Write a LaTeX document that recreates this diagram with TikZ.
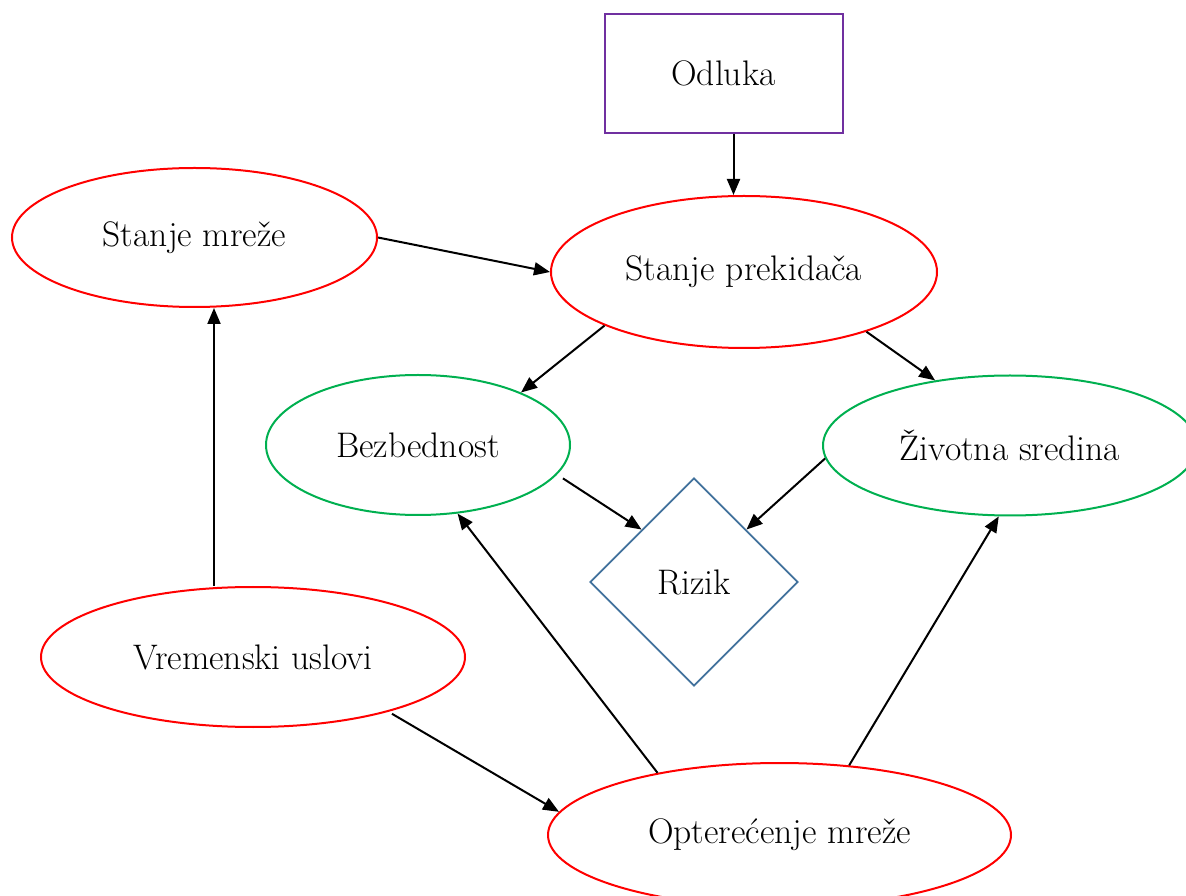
\documentclass[tikz,border=0pt]{standalone}
\usetikzlibrary{shapes.geometric,arrows.meta}
\definecolor{stateRed}{HTML}{FF0000}
\definecolor{effectGreen}{HTML}{00B050}
\definecolor{decisionPurple}{HTML}{7030A0}
\definecolor{riskBlue}{HTML}{41719C}
\begin{document}
\begin{tikzpicture}[x=1pt,y=1pt,
  every node/.style={font=\fontsize{35.5}{42}\selectfont, inner sep=0pt},
  chance/.style={ellipse, draw=stateRed, line width=2pt},
  effect/.style={ellipse, draw=effectGreen, line width=2pt},
  decision/.style={rectangle, draw=decisionPurple, line width=2pt,
    minimum width=238, minimum height=119},
  utility/.style={diamond, draw=riskBlue, line width=1.8pt,
    minimum width=208, minimum height=208},
  link/.style={line width=2pt, -{Triangle[length=16pt,width=13pt]}}
]
\useasboundingbox (0,0) rectangle (1186,895);

% decision, chance, effect and utility nodes
\node[decision] (odl) at (723.5,821.5) {Odluka};
\node[chance, minimum width=365, minimum height=139] (mreza) at (194.5,657.5) {Stanje mreže};
\node[chance, minimum width=386, minimum height=152] (prek) at (744,623) {Stanje prekidača};
\node[effect, minimum width=304, minimum height=140] (bez) at (418,450) {Bezbednost};
\node[effect, minimum width=374, minimum height=140] (ziv) at (1010,449.5) {Životna sredina};
\node[utility] (rizik) at (694,313) {Rizik};
\node[chance, minimum width=424, minimum height=140] (vrem) at (253,238) {Vremenski uslovi};
\node[chance, minimum width=463, minimum height=144] (opt) at (779.5,60) {Opterećenje mreže};

% influences
\draw[link] ([xshift=10pt]odl.south) -- ([xshift=10pt]odl.south |- prek.north);
\draw[link] (mreza.east) -- (prek.west);
\draw[link] (prek.201.4) -- (bez.27.8);
\draw[link] (prek.334.9) -- (ziv.139.4);
\draw[link, shorten <=7pt] (bez.348.9) -- (rizik.north west);
\draw[link] (ziv.184.8) -- (rizik.north east);
\draw[link] ([xshift=-39pt]vrem.north) -- ([xshift=-39pt]vrem.north |- mreza.south);
\draw[link, shorten <=4pt] (vrem.338.1) -- (opt.174.5);
\draw[link] (opt.153.3) -- (bez.300);
\draw[link] (opt.45.2) -- (ziv.261.1);
\end{tikzpicture}
\end{document}
